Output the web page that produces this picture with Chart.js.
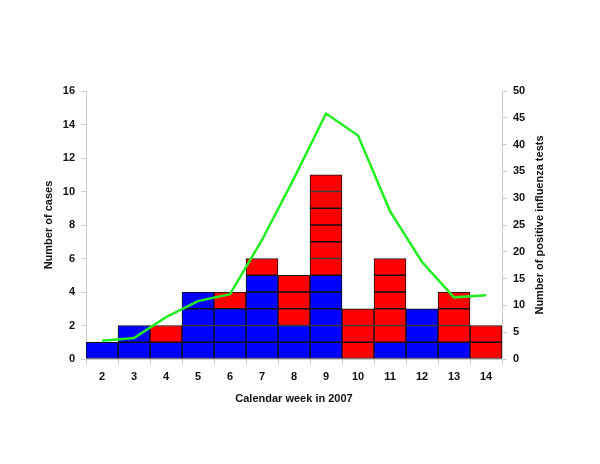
<!DOCTYPE html>
<html>
<head>
<meta charset="utf-8">
<script src="https://cdn.jsdelivr.net/npm/chart.js@4/dist/chart.umd.min.js"></script>
<style>
  html, body { margin: 0; padding: 0; background: #fff; }
  #wrap { width: 600px; height: 464px; }
</style>
</head>
<body>
<div id="wrap"><canvas id="fluChart"></canvas></div>
<script>
const weeks = ["2", "3", "4", "5", "6", "7", "8", "9", "10", "11", "12", "13", "14"];
const blueCases = [1, 2, 1, 4, 3, 5, 2, 5, 0, 1, 3, 1, 0];
const redCases = [0, 0, 1, 0, 1, 1, 3, 6, 3, 5, 0, 3, 2];
const positiveTests = [3.4, 3.9, 7.8, 10.8, 12.1, 22.2, 33.7, 45.8, 41.7, 27.6, 18.1, 11.5, 11.9];

// every case is its own cell, so build one stacked layer per level
function layers(counts, color, name) {
  const out = [];
  const max = Math.max(...counts);
  for (let k = 1; k <= max; k++) {
    out.push({
      type: "bar",
      label: name + " " + k,
      data: counts.map(v => v >= k ? 1 : null),
      backgroundColor: color,
      borderColor: "#111",
      borderWidth: 1,
      borderSkipped: false,
      barPercentage: 1,
      categoryPercentage: 1,
      yAxisID: "y",
      order: 1
    });
  }
  return out;
}

const tickFont = { family: "Liberation Sans, Arial, sans-serif", size: 11, weight: "bold" };

// right axis title reads bottom-to-top in the original
const rightTitle = {
  id: "rightTitle",
  afterDraw(chart) {
    const s = chart.scales.y1;
    const ctx = chart.ctx;
    ctx.save();
    ctx.translate(s.right - 7, (s.top + s.bottom) / 2);
    ctx.rotate(-Math.PI / 2);
    ctx.font = "bold 11px Liberation Sans, Arial, sans-serif";
    ctx.fillStyle = "#111";
    ctx.textAlign = "center";
    ctx.textBaseline = "middle";
    ctx.fillText("Number of positive influenza tests", 0, 0);
    ctx.restore();
  }
};

new Chart(document.getElementById("fluChart"), {
  data: {
    labels: weeks,
    datasets: [
      {
        type: "line",
        label: "Positive influenza tests",
        data: positiveTests,
        borderColor: "#22ee22",
        borderWidth: 2.5,
        pointRadius: 0,
        tension: 0,
        fill: false,
        yAxisID: "y1",
        order: 0
      },
      ...layers(blueCases, "#0000ff", "blue"),
      ...layers(redCases, "#ff0000", "red")
    ]
  },
  options: {
    responsive: true,
    maintainAspectRatio: false,
    animation: false,
    layout: { padding: { left: 38, right: 53, top: 91, bottom: 54 } },
    plugins: { legend: { display: false }, tooltip: { enabled: false } },
    scales: {
      x: {
        stacked: true,
        grid: { drawOnChartArea: false, color: "#ccc", tickLength: 5 },
        border: { color: "#ccc" },
        ticks: { color: "#111", font: tickFont, padding: 6 },
        title: { display: true, text: "Calendar week in 2007", color: "#111", font: tickFont },
        afterFit: s => { s.height = 51; }
      },
      y: {
        stacked: true,
        position: "left",
        min: 0,
        max: 16,
        ticks: { stepSize: 2, color: "#111", font: tickFont, padding: 6 },
        grid: { drawOnChartArea: false, color: "#ccc", tickLength: 5 },
        border: { color: "#ccc" },
        title: { display: true, text: "Number of cases", color: "#111", font: tickFont },
        afterFit: s => { s.width = 48; }
      },
      y1: {
        position: "right",
        min: 0,
        max: 50,
        ticks: { stepSize: 5, color: "#111", font: tickFont, padding: 6 },
        grid: { drawOnChartArea: false, color: "#ccc", tickLength: 5 },
        border: { color: "#ccc" },
        afterFit: s => { s.width = 45; }
      }
    }
  },
  plugins: [rightTitle]
});
</script>
</body>
</html>
